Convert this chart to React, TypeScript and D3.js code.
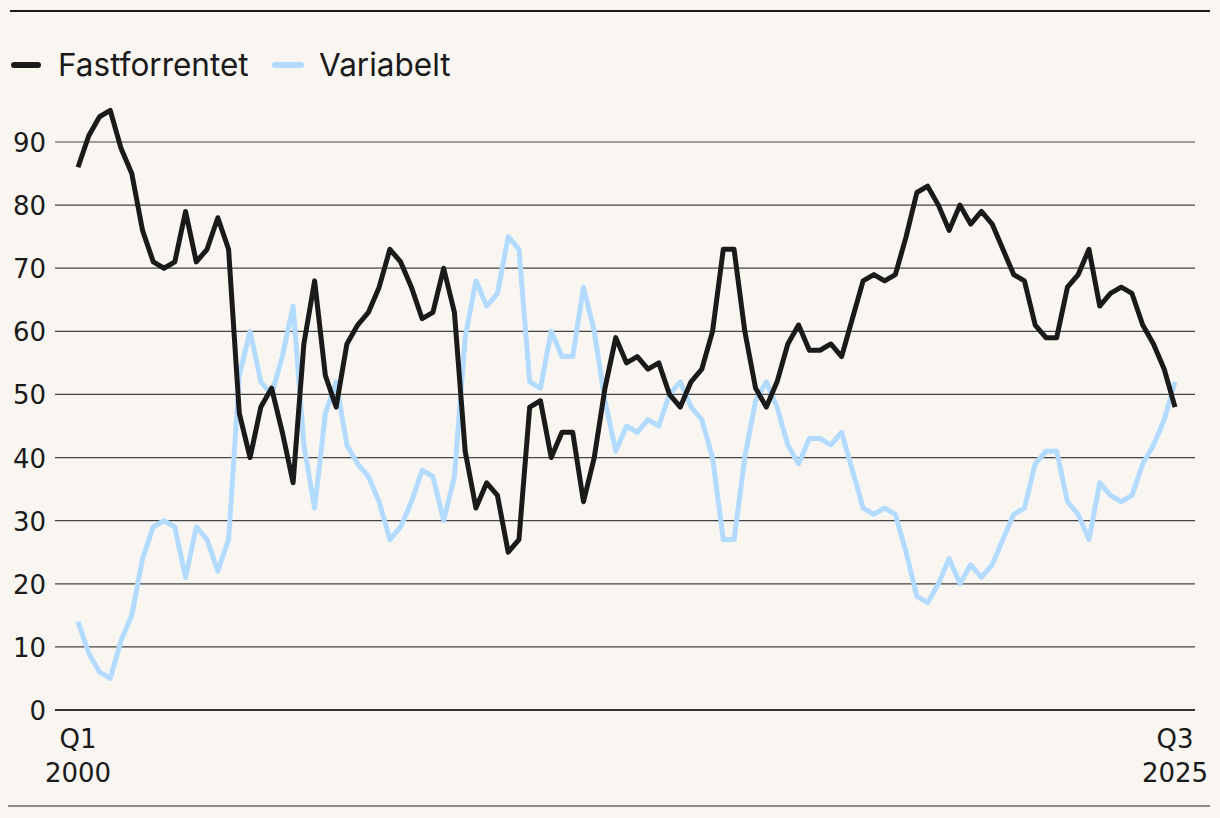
import React from "react";
import * as d3 from "d3";

const quarters: string[] = [];
for (let y = 2000; y <= 2025; y++) {
  for (let q = 1; q <= 4; q++) {
    if (y === 2025 && q > 3) break;
    quarters.push(`${y}Q${q}`);
  }
}

const fastforrentet = [
  86, 91, 94, 95, 89, 85, 76, 71, 70, 71,
  79, 71, 73, 78, 73, 47, 40, 48, 51, 44,
  36, 58, 68, 53, 48, 58, 61, 63, 67, 73,
  71, 67, 62, 63, 70, 63, 41, 32, 36, 34,
  25, 27, 48, 49, 40, 44, 44, 33, 40, 51,
  59, 55, 56, 54, 55, 50, 48, 52, 54, 60,
  73, 73, 60, 51, 48, 52, 58, 61, 57, 57,
  58, 56, 62, 68, 69, 68, 69, 75, 82, 83,
  80, 76, 80, 77, 79, 77, 73, 69, 68, 61,
  59, 59, 67, 69, 73, 64, 66, 67, 66, 61,
  58, 54, 48,
];

const variabelt = [
  14, 9, 6, 5, 11, 15, 24, 29, 30, 29,
  21, 29, 27, 22, 27, 53, 60, 52, 50, 56,
  64, 42, 32, 47, 52, 42, 39, 37, 33, 27,
  29, 33, 38, 37, 30, 37, 59, 68, 64, 66,
  75, 73, 52, 51, 60, 56, 56, 67, 60, 49,
  41, 45, 44, 46, 45, 50, 52, 48, 46, 40,
  27, 27, 40, 49, 52, 48, 42, 39, 43, 43,
  42, 44, 38, 32, 31, 32, 31, 25, 18, 17,
  20, 24, 20, 23, 21, 23, 27, 31, 32, 39,
  41, 41, 33, 31, 27, 36, 34, 33, 34, 39,
  42, 46, 52,
];

const yTicks = [0, 10, 20, 30, 40, 50, 60, 70, 80, 90];
const seriesNames = ["Fastforrentet", "Variabelt"];
const seriesColors = ["#1a1a1a", "#b3dbff"];

export default function App() {
  const W = 1220;
  const H = 818;
  const x = d3
    .scaleLinear()
    .domain([0, quarters.length - 1])
    .range([78, 1175]);
  const y = d3.scaleLinear().domain([0, 90]).range([710, 142]);
  const line = d3
    .line<number>()
    .x((_, i) => x(i))
    .y((d) => y(d));
  const font = "Inter, 'Liberation Sans', Arial, sans-serif";
  const tickFont = "'DejaVu Sans', Inter, sans-serif";
  const text = "#1a1a1a";

  return (
    <svg
      width={W}
      height={H}
      style={{ position: "absolute", left: 0, top: 0, background: "#f9f6f1" }}
    >
      <rect x={0} y={0} width={W} height={H} fill="#f9f6f1" />
      <line x1={10} x2={1210} y1={11} y2={11} stroke="#1a1a1a" strokeWidth={2} />
      <line x1={8} x2={1210} y1={806} y2={806} stroke="#8c8782" strokeWidth={2} />

      {/* legend */}
      <g fontFamily={font} fontSize={31.5} fill={text}>
        <line x1={14} x2={38} y1={65} y2={65} stroke={seriesColors[0]} strokeWidth={6} strokeLinecap="round" />
        <text x={58} y={76}>{seriesNames[0]}</text>
        <line x1={275} x2={301} y1={65} y2={65} stroke={seriesColors[1]} strokeWidth={6} strokeLinecap="round" />
        <text x={319} y={76}>{seriesNames[1]}</text>
      </g>

      {/* grid + y labels */}
      <g fontFamily={tickFont} fontSize={26} fill={text}>
        {yTicks.map((t) => (
          <g key={t}>
            <line
              x1={55}
              x2={1195}
              y1={y(t)}
              y2={y(t)}
              stroke={t === 0 ? "#333" : "#444"}
              strokeWidth={t === 0 ? 2 : 1.2}
            />
            <text x={46} y={y(t) + 10} textAnchor="end">
              {t}
            </text>
          </g>
        ))}
      </g>

      {/* x labels */}
      <g fontFamily={tickFont} fontSize={26} fill={text} textAnchor="middle">
        <text x={x(0)} y={748}>Q1</text>
        <text x={x(0)} y={782}>2000</text>
        <text x={x(quarters.length - 1)} y={748}>Q3</text>
        <text x={x(quarters.length - 1)} y={782}>2025</text>
      </g>

      <path d={line(variabelt) || ""} fill="none" stroke={seriesColors[1]} strokeWidth={5} strokeLinejoin="round" />
      <path d={line(fastforrentet) || ""} fill="none" stroke={seriesColors[0]} strokeWidth={5} strokeLinejoin="round" />
    </svg>
  );
}
